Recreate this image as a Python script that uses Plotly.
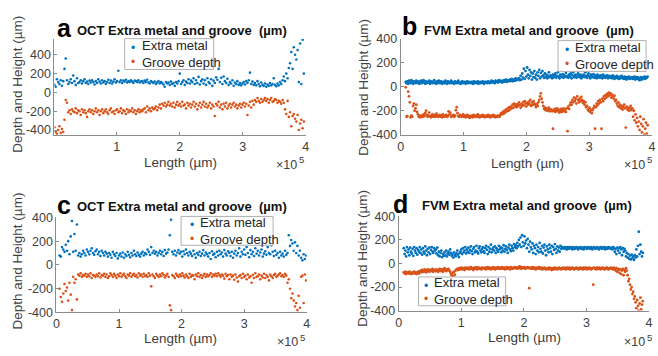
import numpy as np
import plotly.graph_objects as go

# ---------------- data ----------------
# (a) OCT, 200 samples
A_X_START, A_X_END, A_N = 1000, 397000, 200
A_EXTRA = [
    80, 60, 140, 110, 90, 130, 70, 120, 250, 360,
    130, 90, 110, 140, 100, 180, 120, 80, 150, 100,
    110, 130, 95, 120, 140, 100, 115, 90, 125, 105,
    130, 110, 85, 120, 100, 140, 115, 95, 130, 105,
    120, 90, 110, 135, 100, 125, 95, 115, 140, 105,
    120, 230, 110, 130, 100, 125, 115, 135, 105, 120,
    110, 130, 115, 100, 125, 120, 110, 130, 105, 115,
    120, 100, 125, 110, 135, 105, 95, 120, 110, 100,
    115, 90, 105, 120, 95, 110, 100, 85, 60, 110,
    95, 105, 80, 115, 90, 100, 70, 110, 95, 120,
    200, 90, 110, 130, 80, 115, 100, 140, 95, 125,
    110, 150, 90, 130, 100, 165, 85, 120, 140, 95,
    130, 80, 150, 110, 95, 140, 70, 125, 100, 160,
    135, 250, 110, 155, 90, 170, 120, 100, 145, 80,
    110, 95, 130, 70, 105, 90, 120, 80, 100, 75,
    95, 110, 85, 120, 100, 130, 210, 90, 115, 80,
    100, 75, 120, 90, 65, 105, 80, 70, 95, 60,
    85, 70, 100, 75, 90, 150, 80, 65, 95, 75,
    110, 90, 130, 170, 120, 200, 150, 260, 310, 430,
    250, 480, 400, 350, 450, 110, 520, 90, 560, 200,
]
A_GROOVE = [
    -370, -420, -440, -400, -360, -430, -390, -420, -290, -80,
    -110, -210, -190, -230, -180, -200, -210, -170, -220, -190,
    -200, -240, -180, -210, -190, -220, -260, -200, -180, -210,
    -190, -230, -200, -170, -210, -190, -240, -200, -180, -220,
    -200, -180, -210, -230, -190, -170, -210, -200, -230, -190,
    -180, -210, -200, -170, -220, -190, -200, -230, -180, -210,
    -190, -200, -170, -210, -190, -230, -200, -180, -210, -190,
    -200, -180, -170, -210, -150, -190, -170, -200, -160, -180,
    -170, -150, -190, -160, -130, -170, -120, -140, -110, -150,
    -130, -100, -140, -120, -150, -110, -160, -130, -100, -140,
    -120, -150, -100, -140, -130, -170, -110, -140, -120, -160,
    -130, -100, -150, -120, -180, -140, -110, -160, -130, -100,
    -150, -120, -160, -140, -110, -170, -130, -150, -250, -120,
    -140, -100, -160, -130, -180, -120, -150, -110, -170, -140,
    -120, -160, -130, -110, -150, -130, -170, -140, -120, -160,
    -130, -110, -150, -120, -240, -140, -100, -160, -90, -130,
    -80, -100, -60, -90, -110, -70, -100, -80, -60, -90,
    -70, -110, -80, -60, -100, -90, -70, -80, -110, -90,
    -100, -120, -80, -110, -180, -230, -90, -260, -210, -360,
    -250, -230, -280, -310, -240, -400, -330, -290, -380, -310,
]

# (b) FVM, 300 samples
B_X_START, B_X_END, B_N = 8000, 393000, 300
B_EXTRA = [
    40, 30, 45, 25, 50, 35, 30, 55, 40, 25, 45, 35, 30, 50, 40, 30, 45, 25, 35, 50,
    30, 40, 55, 35, 25, 45, 30, 40, 35, 50, 25, 40, 45, 30, 35, 55, 30, 40, 25, 45,
    35, 50, 30, 40, 45, 25, 35, 40, 30, 50, 35, 25, 45, 40, 30, 35, 50, 30, 40, 35,
    25, 45, 35, 30, 40, 50, 30, 35, 25, 40, 45, 30, 35, 40, 25, 35, 45, 30, 40, 35,
    30, 40, 35, 25, 45, 30, 40, 35, 30, 45, 25, 35, 40, 30, 35, 45, 30, 25, 40, 35,
    40, 30, 45, 35, 30, 40, 50, 35, 45, 40, 30, 50, 40, 45, 35, 55, 40, 50, 45, 35,
    50, 40, 55, 45, 60, 40, 50, 55, 45, 60, 50, 65, 45, 55, 60, 50, 70, 55, 60, 65,
    70, 55, 90, 60, 110, 75, 150, 65, 130, 85, 160, 100, 70, 140, 90, 120, 60, 110, 80, 130,
    75, 100, 60, 120, 90, 140, 70, 115, 85, 130, 95, 75, 110, 80, 100, 70, 90, 120, 80, 95,
    85, 70, 100, 80, 95, 110, 75, 90, 120, 85, 70, 100, 90, 80, 105, 75, 95, 85, 115, 80,
    90, 75, 100, 85, 110, 70, 95, 120, 80, 90, 100, 75, 85, 110, 95, 80, 100, 70, 90, 85,
    100, 80, 120, 90, 75, 95, 110, 85, 70, 100, 90, 80, 105, 75, 95, 85, 70, 100, 80, 90,
    75, 95, 85, 70, 100, 80, 90, 75, 85, 95, 70, 80, 90, 75, 85, 70, 95, 80, 65, 85,
    75, 90, 70, 80, 65, 85, 75, 90, 70, 80, 65, 85, 75, 60, 80, 70, 85, 65, 75, 70,
    80, 65, 75, 85, 60, 70, 80, 65, 75, 55, 70, 80, 60, 75, 70, 85, 65, 80, 75, 85,
]
B_GROOVE = [
    -5, -250, -245, -40, -80, -130, -255, -240, -250, -160, -140, -200, -180, -150, -210, -230, -250, -240, -255, -245,
    -240, -250, -230, -245, -220, -200, -235, -250, -240, -215, -245, -255, -240, -230, -250, -245, -235, -250, -225, -240,
    -250, -245, -235, -250, -240, -255, -230, -245, -250, -240, -235, -250, -245, -205, -230, -215, -250, -240, -245, -235,
    -250, -240, -195, -170, -220, -245, -250, -235, -240, -250, -245, -230, -250, -240, -255, -245, -235, -250, -240, -260,
    -245, -250, -240, -255, -235, -250, -245, -240, -250, -230, -245, -255, -240, -250, -245, -235, -250, -240, -255, -245,
    -240, -250, -235, -245, -255, -240, -250, -245, -235, -250, -240, -255, -245, -250, -240, -245, -250, -235, -220, -230,
    -210, -225, -200, -215, -190, -205, -180, -200, -170, -190, -165, -180, -150, -175, -140, -160, -150, -170, -145, -160,
    -130, -150, -175, -145, -160, -130, -155, -120, -140, -165, -135, -150, -125, -145, -110, -160, -130, -150, -120, -140,
    -150, -170, -145, -160, -130, -110, -80, -55, -100, -130, -160, -185, -175, -195, -180, -200, -190, -175, -205, -190,
    -190, -205, -350, -200, -185, -210, -195, -180, -205, -190, -215, -200, -185, -210, -195, -180, -205, -190, -210, -180,
    -370, -165, -185, -150, -130, -150, -110, -130, -90, -120, -100, -140, -80, -110, -130, -100, -120, -85, -110, -135,
    -120, -150, -130, -170, -160, -190, -200, -175, -210, -190, -220, -195, -180, -160, -350, -170, -140, -155, -120, -140,
    -110, -130, -350, -100, -120, -80, -100, -70, -90, -60, -80, -50, -70, -55, -90, -65, -80, -100, -75, -120,
    -110, -140, -160, -130, -170, -150, -180, -160, -190, -170, -150, -180, -340, -165, -190, -175, -200, -180, -160, -195,
    -180, -250, -200, -280, -230, -300, -260, -330, -290, -360, -250, -310, -380, -330, -270, -400, -350, -300, -390, -320,
]

# (c) OCT, 200 samples
C_X_START, C_X_END, C_N = 5000, 399000, 200
C_EXTRA = [
    80, 70, 150, 130, 110, 170, 120, 200, 90, 240,
    370, 110, 260, 120, 340, 80, 100, 70, 90, 120,
    100, 80, 130, 110, 90, 120, 140, 100, 85, 115,
    130, 90, 110, 75, 120, 100, 80, 110, 95, 70,
    100, 85, 60, 110, 90, 75, 100, 55, 80, 95,
    70, 105, 60, 90, 75, 110, 85, 65, 100, 80,
    120, 90, 75, 105, 85, 70, 95, 110, 80, 100,
    90, 130, 110, 85, 150, 100, 120, 95, 110, 80,
    100, 120, 90, 110, 75, 125, 95, 105, 130, 250,
    380, 110, 90, 120, 80, 105, 125, 95, 110, 70,
    115, 90, 130, 100, 80, 110, 95, 75, 120, 90,
    60, 100, 85, 110, 75, 95, 125, 80, 105, 90,
    70, 100, 50, 115, 85, 95, 65, 110, 80, 120,
    90, 105, 70, 125, 95, 80, 115, 100, 75, 110,
    60, 95, 120, 80, 100, 140, 70, 110, 90, 130,
    85, 150, 100, 65, 125, 90, 110, 75, 140, 95,
    120, 80, 105, 130, 70, 95, 115, 85, 150, 100,
    90, 165, 110, 75, 120, 85, 100, 60, 110, 80,
    95, 70, 120, 85, 100, 250, 160, 210, 180, 120,
    190, 100, 160, 80, 120, 60, 40, 90, 50, 80,
]
C_GROOVE = [
    -200, -270, -310, -240, -160, -220, -190, -300, -150, -250,
    -380, -100, -150, -120, -290, -80, -90, -70, -100, -85,
    -90, -75, -100, -80, -95, -70, -110, -85, -90, -100,
    -80, -95, -70, -105, -85, -90, -75, -100, -80, -110,
    -95, -70, -85, -100, -75, -90, -110, -80, -95, -70,
    -100, -85, -75, -95, -110, -80, -90, -70, -100, -85,
    -75, -95, -85, -105, -70, -90, -80, -100, -75, -95,
    -85, -100, -70, -90, -180, -80, -95, -110, -75, -90,
    -100, -80, -95, -70, -85, -105, -90, -75, -100, -340,
    -380, -85, -95, -110, -75, -90, -100, -80, -95, -70,
    -90, -105, -80, -95, -110, -75, -100, -85, -90, -120,
    -80, -95, -70, -100, -85, -110, -90, -75, -100, -80,
    -95, -85, -70, -100, -80, -90, -75, -95, -70, -85,
    -100, -80, -90, -115, -75, -95, -85, -120, -80, -100,
    -90, -125, -80, -105, -140, -95, -85, -110, -75, -100,
    -90, -120, -80, -105, -95, -150, -85, -110, -70, -100,
    -95, -80, -120, -90, -105, -75, -110, -85, -100, -130,
    -80, -95, -110, -85, -75, -100, -90, -80, -70, -95,
    -85, -100, -75, -90, -150, -120, -200, -280, -240, -300,
    -350, -320, -380, -260, -360, -100, -90, -320, -80, -130,
]

# (d) FVM, 300 samples
D_X_START, D_X_END, D_N = 8000, 390000, 300
D_EXTRA = [
    130, 80, 110, 60, 140, 95, 120, 70, 135, 100, 85, 125, 65, 140, 110, 90, 130, 75, 115, 100,
    140, 90, 120, 75, 130, 100, 85, 145, 110, 70, 125, 95, 135, 80, 115, 140, 100, 90, 130, 110,
    120, 85, 135, 70, 100, 60, 90, 110, 55, 80, 65, 95, 70, 110, 60, 85, 100, 75, 120, 90,
    65, 80, 50, 95, 70, 60, 85, 110, 75, 55, 90, 100, 120, 80, 130, 95, 110, 140, 85, 120,
    100, 135, 90, 115, 145, 105, 80, 125, 140, 95, 110, 150, 100, 85, 130, 145, 110, 95, 125, 140,
    105, 90, 130, 150, 115, 80, 140, 100, 125, 160, 95, 120, 135, 110, 145, 90, 130, 115, 100, 150,
    120, 140, 95, 130, 110, 155, 100, 125, 145, 115, 90, 135, 160, 120, 105, 150, 130, 110, 165, 140,
    155, 130, 175, 145, 200, 160, 220, 140, 240, 180, 150, 230, 170, 195, 130, 210, 160, 100, 185, 140,
    120, 170, 90, 150, 130, 80, 160, 110, 140, 95, 175, 125, 100, 150, 85, 135, 160, 110, 70, 145,
    120, 95, 160, 130, 100, 150, 80, 140, 115, 165, 125, 90, 145, 110, 135, 100, 150, 125, 140, 130,
    135, 125, 140, 130, 120, 140, 135, 125, 140, 130, 135, 120, 140, 130, 125, 135, 140, 130, 120, 135,
    130, 140, 125, 135, 130, 120, 140, 135, 130, 125, 140, 130, 135, 125, 140, 130, 120, 135, 140, 130,
    125, 135, 140, 130, 120, 135, 130, 140, 125, 135, 130, 140, 120, 135, 130, 125, 140, 135, 130, 125,
    135, 120, 140, 130, 100, 125, 80, 135, 110, 130, 90, 140, 120, 70, 130, 100, 125, 110, 60, 90,
    50, 80, 40, 65, 35, 75, 45, 60, 30, 70, 50, 120, 60, 150, 270, 80, 160, 100, 60, 90,
]
D_GROOVE = [
    -75, -85, -70, -90, -80, -75, -85, -70, -80, -90, -75, -85, -80, -70, -85, -75, -90, -80, -70, -85,
    -70, -60, -75, -55, -65, -70, -50, -60, -75, -55, -65, -50, -70, -60, -55, -65, -45, -70, -60, -55,
    -65, -50, -60, -70, -55, -45, -65, -60, -50, -70, -55, -40, -60, -65, -50, -55, -45, -60, -70, -90,
    -100, -80, -110, -70, -95, -60, -50, -45, -55, -40, -50, -45, -35, -50, -40, -45, -55, -35, -45, -40,
    -45, -35, -50, -40, -30, -45, -40, -55, -35, -45, -40, -30, -50, -40, -35, -45, -40, -50, -35, -40,
    -40, -45, -35, -50, -40, -30, -45, -40, -35, -50, -40, -45, -30, -40, -50, -35, -45, -40, -30, -45,
    -35, -45, -40, -30, -45, -40, -35, -50, -40, -30, -45, -35, -40, -50, -30, -40, -45, -35, -40, -30,
    -40, -35, -45, -30, -40, -25, -35, -45, -30, -40, -35, -30, -45, -40, -35, -30, -40, -210, -35, -45,
    -40, -30, -45, -35, -40, -50, -35, -45, -40, -30, -45, -40, -35, -50, -40, -45, -35, -40, -50, -45,
    -40, -50, -35, -45, -40, -55, -45, -40, -50, -35, -45, -40, -50, -45, -35, -40, -45, -50, -40, -45,
    -35, -45, -40, -50, -35, -40, -45, -35, -50, -40, -45, -35, -40, -50, -45, -40, -35, -45, -40, -50,
    -40, -35, -45, -40, -50, -35, -45, -40, -35, -50, -40, -45, -35, -40, -50, -45, -40, -180, -35, -45,
    -40, -50, -35, -45, -40, -35, -50, -45, -40, -35, -45, -50, -40, -45, -35, -40, -50, -45, -40, -35,
    -45, -40, -50, -35, -45, -60, -40, -70, -45, -55, -80, -50, -90, -60, -45, -100, -55, -70, -40, -60,
    -100, -150, -130, -180, -220, -200, -260, -240, -300, -280, -330, -380, -310, -360, -400, -340, -290, -390, -350, -320,
]

SERIES_NAMES = ["Extra metal", "Groove depth"]
X_TICK_VALS = [0, 100000, 200000, 300000, 400000]
X_TICK_TEXT = ["0", "1", "2", "3", "4"]
Y_TICK_VALS = [-400, -200, 0, 200, 400]
Y_TICK_TEXT = ["-400", "-200", "0", "200", "400"]
PANEL_LETTERS = ["a", "b", "c", "d"]
PANEL_TITLES = ["OCT Extra metal and groove  (µm)", "FVM Extra metal and groove  (µm)",
                "OCT Extra metal and groove  (µm)", "FVM Extra metal and groove  (µm)"]
X_TITLE = "Length (µm)"
Y_TITLE = "Depth and Height (µm)"
EXP_BASE = "×10"
EXP_POWER = "5"

# ---------------- styling ----------------
W, H = 658, 356
BLUE, ORANGE = "#0072BD", "#D95319"
FONT = "Liberation Sans, Arial, Helvetica, sans-serif"
AX_COL = "#8c8c8c"
TXT_COL = "#404040"
LEG_FONT = 12


def px(x):
    return x / W


def py(y):
    return 1 - y / H


panels = [
    dict(x=np.linspace(A_X_START, A_X_END, A_N), em=A_EXTRA, gd=A_GROOVE,
         xr=[1000, 400000], yr=[-450, 571], xd=[52, 306], yd=[33, 133], ms=2.6,
         legbox=(123, 33, 213, 65), legdot=131, legtxt=139,
         letter=(62, 22), title=(73, 24), ylab=(15, 80), xlab=(179, 162), exp=(306, 164)),
    dict(x=np.linspace(B_X_START, B_X_END, B_N), em=B_EXTRA, gd=B_GROOVE,
         xr=[0, 400000], yr=[-400, 400], xd=[402, 656], yd=[33, 133], ms=2.8,
         legbox=(561, 35, 650, 67), legdot=570, legtxt=577,
         letter=(411, 20), title=(424, 24), ylab=(365, 84), xlab=(530, 163), exp=(658, 164)),
    dict(x=np.linspace(C_X_START, C_X_END, C_N), em=C_EXTRA, gd=C_GROOVE,
         xr=[0, 400000], yr=[-400, 400], xd=[54, 307], yd=[219, 318], ms=2.6,
         legbox=(180, 218, 273, 248), legdot=191, legtxt=198,
         letter=(62, 206), title=(73, 208), ylab=(15, 264), xlab=(179, 345), exp=(307, 349)),
    dict(x=np.linspace(D_X_START, D_X_END, D_N), em=D_EXTRA, gd=D_GROOVE,
         xr=[0, 400000], yr=[-400, 400], xd=[400, 653], yd=[218, 316], ms=2.8,
         legbox=(420, 281, 508, 311), legdot=428, legtxt=435,
         letter=(402, 205), title=(421, 207), ylab=(364, 262), xlab=(527, 344), exp=(658, 349)),
]

fig = go.Figure()
layout = dict(width=W, height=H, margin=dict(l=0, r=0, t=0, b=0), autosize=False,
              paper_bgcolor="white", plot_bgcolor="white",
              font=dict(family=FONT, color=TXT_COL), showlegend=False)
annotations = []
shapes = []


def note(text, x, y, size, color=TXT_COL, xanchor="center", angle=0, weight="normal"):
    annotations.append(dict(text=text, x=px(x), y=py(y), xref="paper", yref="paper",
                            showarrow=False, xanchor=xanchor, yanchor="middle", textangle=angle,
                            font=dict(family=FONT, size=size, color=color, weight=weight)))


for i, p in enumerate(panels):
    n = i + 1
    xs = "" if n == 1 else str(n)
    for vals, col, name in ((p["em"], BLUE, SERIES_NAMES[0]), (p["gd"], ORANGE, SERIES_NAMES[1])):
        fig.add_trace(go.Scatter(
            x=p["x"], y=vals, mode="markers", name=name,
            marker=dict(color=col, size=p["ms"], line=dict(width=0)),
            xaxis="x" + xs, yaxis="y" + xs, cliponaxis=True))
    common = dict(showgrid=False, zeroline=False, showline=True, linecolor=AX_COL, linewidth=1,
                  ticks="inside", ticklen=3, tickcolor=AX_COL, mirror=False,
                  tickfont=dict(family=FONT, size=12.5, color=TXT_COL))
    layout["xaxis" + xs] = dict(common, domain=[px(p["xd"][0]), px(p["xd"][1])],
                                range=p["xr"], anchor="y" + xs,
                                tickvals=X_TICK_VALS, ticktext=X_TICK_TEXT)
    layout["yaxis" + xs] = dict(common, domain=[py(p["yd"][1]), py(p["yd"][0])],
                                range=p["yr"], anchor="x" + xs,
                                tickvals=Y_TICK_VALS, ticktext=Y_TICK_TEXT)
    # legend box (drawn as shape + text)
    bx0, by0, bx1, by1 = p["legbox"]
    cy = (by0 + by1) / 2
    shapes.append(dict(type="rect", xref="paper", yref="paper", x0=px(bx0), x1=px(bx1),
                       y0=py(by1), y1=py(by0), line=dict(color="#b0b0b0", width=1),
                       fillcolor="white", layer="above"))
    note("•", p["legdot"], cy - 6, LEG_FONT, color=BLUE)
    note("•", p["legdot"], cy + 8, LEG_FONT, color=ORANGE)
    note(SERIES_NAMES[0] + "<br>" + SERIES_NAMES[1], p["legtxt"], cy, LEG_FONT + 1,
         color="#262626", xanchor="left")
    annotations[-1].update(align="left", borderpad=0)
    # panel letter + title
    note(PANEL_LETTERS[i], p["letter"][0], p["letter"][1], 25, color="black", weight="bold")
    note(PANEL_TITLES[i], p["title"][0], p["title"][1], 13, color="#111111", xanchor="left", weight="bold")
    # axis titles
    note(Y_TITLE, p["ylab"][0], p["ylab"][1], 13.5, angle=-90)
    note(X_TITLE, p["xlab"][0], p["xlab"][1], 13.5)
    # x-axis exponent
    note(EXP_BASE, p["exp"][0] - 7, p["exp"][1], 12.5, xanchor="right")
    note(EXP_POWER, p["exp"][0], p["exp"][1] - 5, 9.5, xanchor="right")

layout["annotations"] = annotations
layout["shapes"] = shapes
fig.update_layout(**layout)
fig.write_html("out.html")
